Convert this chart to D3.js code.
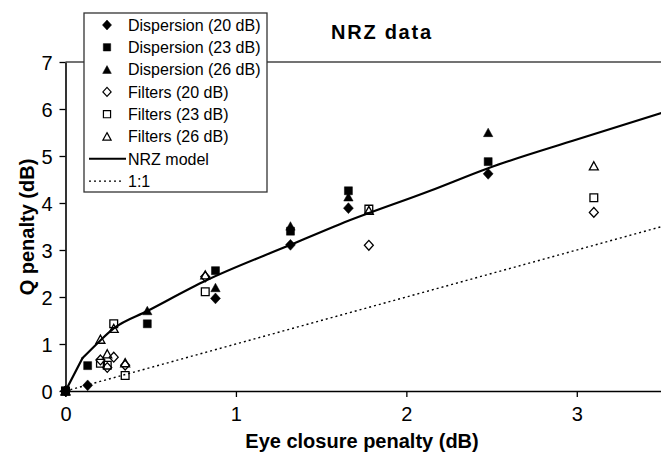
<!DOCTYPE html>
<html><head><meta charset="utf-8">
<script src="https://cdn.jsdelivr.net/npm/d3@7"></script>
<style>body{margin:0;background:#fff}svg{display:block;font-family:"Liberation Sans",Arial,sans-serif}</style>
</head><body><svg id="c" width="661" height="464"></svg>
<script>
// ---- data ----
const xTicks = [0, 1, 2, 3];
const yTicks = [0, 1, 2, 3, 4, 5, 6, 7];
const titleText = "NRZ data";
const xTitle = "Eye closure penalty (dB)";
const yTitle = "Q penalty (dB)";

const disp20X = [0, 0.13, 0.88, 1.32, 1.66, 2.48];
const disp20Y = [0, 0.12, 1.97, 3.11, 3.89, 4.62];
const disp23X = [0, 0.13, 0.48, 0.88, 1.32, 1.66, 2.48];
const disp23Y = [0, 0.54, 1.43, 2.56, 3.40, 4.26, 4.88];
const disp26X = [0, 0.48, 0.88, 1.32, 1.66, 2.48];
const disp26Y = [0, 1.71, 2.20, 3.51, 4.13, 5.50];
const filt20X = [0, 0.205, 0.245, 0.283, 0.35, 0.82, 1.78, 3.10];
const filt20Y = [0, 0.66, 0.50, 0.72, 0.55, 2.43, 3.10, 3.80];
const filt23X = [0, 0.205, 0.245, 0.283, 0.35, 0.82, 1.78, 3.10];
const filt23Y = [0, 0.59, 0.55, 1.43, 0.33, 2.11, 3.87, 4.11];
const filt26X = [0, 0.205, 0.245, 0.283, 0.35, 0.82, 1.78, 3.10];
const filt26Y = [0, 1.10, 0.79, 1.33, 0.60, 2.47, 3.84, 4.79];
const modelX = [0, 0.10, 0.20, 0.283, 0.48, 0.83, 1.32, 1.61, 2.14, 2.48, 3.0, 3.5];
const modelY = [0, 0.70, 1.06, 1.33, 1.70, 2.36, 3.11, 3.55, 4.26, 4.74, 5.35, 5.92];
const oneX = [0, 3.5];
const oneY = [0, 3.5];

const legendLabels = ["Dispersion (20 dB)", "Dispersion (23 dB)", "Dispersion (26 dB)",
  "Filters (20 dB)", "Filters (23 dB)", "Filters (26 dB)", "NRZ model", "1:1"];

// ---- setup ----
const svg = d3.select("#c");
const x = d3.scaleLinear().domain([0, 3.5]).range([65.5, 662]);
const y = d3.scaleLinear().domain([0, 7]).range([391, 62]);

// custom symbols
const diamondSym = { draw(ctx, s) { const w = Math.sqrt(s) * 0.62, h = Math.sqrt(s) * 0.68;
  ctx.moveTo(0, -h); ctx.lineTo(w, 0); ctx.lineTo(0, h); ctx.lineTo(-w, 0); ctx.closePath(); } };
const squareSym = { draw(ctx, s) { const r = Math.sqrt(s) / 2; ctx.rect(-r, -r, 2 * r, 2 * r); } };
const triSym = { draw(ctx, s) { const w = Math.sqrt(s) * 0.56, h = Math.sqrt(s) * 0.52;
  ctx.moveTo(0, -h); ctx.lineTo(w, h * 0.95); ctx.lineTo(-w, h * 0.95); ctx.closePath(); } };

const series = [
  { xs: disp20X, ys: disp20Y, sym: diamondSym, size: 64, filled: true },
  { xs: disp23X, ys: disp23Y, sym: squareSym, size: 64, filled: true },
  { xs: disp26X, ys: disp26Y, sym: triSym, size: 70, filled: true },
  { xs: filt20X, ys: filt20Y, sym: diamondSym, size: 52, filled: false },
  { xs: filt23X, ys: filt23Y, sym: squareSym, size: 60, filled: false },
  { xs: filt26X, ys: filt26Y, sym: triSym, size: 64, filled: false }
];

// top border
svg.append("line").attr("x1", x(0)).attr("x2", 661).attr("y1", y(7)).attr("y2", y(7))
  .attr("stroke", "#444").attr("stroke-width", 1.5);

// axes
const xAxis = svg.append("g").attr("transform", `translate(0,${y(0)})`)
  .call(d3.axisBottom(x).tickValues(xTicks).tickFormat(d3.format("d")).tickSize(6).tickSizeOuter(0));
const yAxis = svg.append("g").attr("transform", `translate(${x(0)},0)`)
  .call(d3.axisLeft(y).tickValues(yTicks).tickFormat(d3.format("d")).tickSize(6).tickSizeOuter(0));
[xAxis, yAxis].forEach(g => {
  g.select(".domain").attr("stroke", "#000").attr("stroke-width", 1.6);
  g.selectAll(".tick line").attr("stroke", "#000").attr("stroke-width", 1.3);
  g.selectAll(".tick text").attr("font-size", 20).attr("fill", "#000")
    .attr("font-family", "'Liberation Sans', Arial, sans-serif");
});
xAxis.selectAll(".tick text").attr("dy", "0.71em").attr("y", 16);
yAxis.selectAll(".tick text").attr("x", -13).attr("dy", "0.36em");

// lines
const pts = modelX.map((v, i) => [v, modelY[i]]);
const linLine = d3.line().x(d => x(d[0])).y(d => y(d[1]));
const smoothLine = d3.line().x(d => x(d[0])).y(d => y(d[1])).curve(d3.curveMonotoneX);
svg.append("path").datum(oneX.map((v, i) => [v, oneY[i]]))
  .attr("d", linLine).attr("fill", "none").attr("stroke", "#000").attr("stroke-width", 1.4)
  .attr("stroke-dasharray", "2,3");
svg.append("path").datum(pts.slice(0, 2))
  .attr("d", linLine).attr("fill", "none").attr("stroke", "#000").attr("stroke-width", 2.2)
  .attr("stroke-linecap", "round");
svg.append("path").datum(pts.slice(1))
  .attr("d", smoothLine).attr("fill", "none").attr("stroke", "#000").attr("stroke-width", 2.2)
  .attr("stroke-linecap", "round");

// markers: open first, filled on top
const drawOrder = [3, 4, 5, 0, 1, 2];
drawOrder.forEach(k => {
  const s = series[k];
  svg.append("g").selectAll("path").data(s.xs.map((v, i) => [v, s.ys[i]])).join("path")
    .attr("transform", d => `translate(${x(d[0])},${y(d[1])})`)
    .attr("d", d3.symbol().type(s.sym).size(s.size))
    .attr("fill", s.filled ? "#000" : "none")
    .attr("stroke", "#000").attr("stroke-width", s.filled ? 0.5 : 1.3);
});

// legend
const lg = svg.append("g");
lg.append("rect").attr("x", 84).attr("y", 13).attr("width", 183).attr("height", 179)
  .attr("fill", "#fff").attr("stroke", "#333").attr("stroke-width", 1.3);
legendLabels.forEach((lab, i) => {
  const cy = 25 + i * 22.3;
  if (i < 6) {
    const s = series[i];
    lg.append("path").attr("transform", `translate(107,${cy})`)
      .attr("d", d3.symbol().type(s.sym).size(s.size * 0.85))
      .attr("fill", s.filled ? "#000" : "none").attr("stroke", "#000")
      .attr("stroke-width", s.filled ? 0.5 : 1.2);
  } else if (i === 6) {
    lg.append("line").attr("x1", 89).attr("x2", 126).attr("y1", cy).attr("y2", cy)
      .attr("stroke", "#000").attr("stroke-width", 2);
  } else {
    lg.append("line").attr("x1", 89).attr("x2", 124).attr("y1", cy).attr("y2", cy)
      .attr("stroke", "#000").attr("stroke-width", 1.2).attr("stroke-dasharray", "2,3");
  }
  lg.append("text").attr("x", 128).attr("y", cy).attr("dy", "0.36em")
    .attr("font-size", 16).attr("fill", "#000").text(lab);
});

// titles
svg.append("text").attr("x", 381).attr("y", 38.5).attr("text-anchor", "middle")
  .attr("font-size", 20).attr("font-weight", "bold").attr("textLength", 100).text(titleText);
svg.append("text").attr("x", 362).attr("y", 448).attr("text-anchor", "middle")
  .attr("font-size", 20).attr("font-weight", "bold").text(xTitle);
svg.append("text").attr("transform", "translate(34,227) rotate(-90)").attr("text-anchor", "middle")
  .attr("font-size", 20).attr("font-weight", "bold").text(yTitle);
</script></body></html>
